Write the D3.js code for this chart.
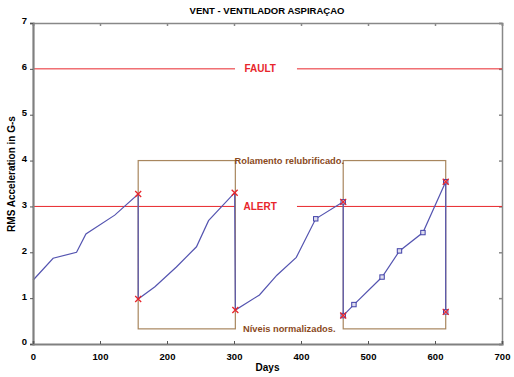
<!DOCTYPE html>
<html>
<head>
<meta charset="utf-8">
<script src="https://cdn.jsdelivr.net/npm/d3@7"></script>
<style>
  html, body { margin: 0; padding: 0; background: #fff; }
  svg { display: block; font-family: "Liberation Sans", Arial, sans-serif; }
  .tick text { font-weight: bold; font-size: 9.5px; fill: #000; }
</style>
</head>
<body>
<div id="chart"></div>
<script>
"use strict";

// vibration history, RMS acceleration per day
const days = [0, 30, 65, 79, 122, 157, 157, 182, 214, 244, 262, 301, 302, 338, 364, 393, 422, 463, 463, 479, 521, 547, 582, 616, 616];
const rms = [1.39, 1.87, 2.0, 2.4, 2.81, 3.27, 0.98, 1.25, 1.68, 2.12, 2.69, 3.3, 0.74, 1.07, 1.5, 1.89, 2.73, 3.1, 0.62, 0.86, 1.46, 2.03, 2.43, 3.54, 0.7];

// which readings get a red cross / a blue square
const crossIdx = [5, 6, 11, 12, 17, 18, 23, 24];
const squareIdx = [16, 17, 18, 19, 20, 21, 22, 23, 24];

// alarm levels
const levelValues = [6, 3];
const levelNames = ["FAULT", "ALERT"];

// relubrication windows (start day, end day)
const boxStarts = [157, 463];
const boxEnds = [302, 616];
const boxTop = 4;
const boxBottom = 0.33;
const boxTopLabel = "Rolamento relubrificado.";
const boxBottomLabel = "Níveis normalizados.";

const xTicks = [0, 100, 200, 300, 400, 500, 600, 700];
const yTicks = [0, 1, 2, 3, 4, 5, 6, 7];

const W = 514, H = 377;
const m = { left: 33, right: 12, top: 23, bottom: 33 };

const svg = d3.select("#chart").append("svg").attr("width", W).attr("height", H);

const x = d3.scaleLinear().domain([0, 700]).range([m.left, W - m.right]);
const y = d3.scaleLinear().domain([0, 7]).range([H - m.bottom, m.top]);

const red = "#e8262b";
const brown = "#a8865e";
const brownText = "#8a4a1c";
const blue = "#5454b0";

// frame: top and right
svg.append("g")
  .attr("transform", `translate(0,${m.top})`)
  .call(d3.axisTop(x).tickValues(xTicks).tickSize(-3).tickFormat(""))
  .call((g) => g.selectAll("path, line").attr("stroke", "#888").attr("stroke-width", 1.5));
svg.append("g")
  .attr("transform", `translate(${W - m.right},0)`)
  .call(d3.axisRight(y).tickValues(yTicks).tickSize(-3).tickFormat(""))
  .call((g) => g.selectAll("path, line").attr("stroke", "#888").attr("stroke-width", 1.5));

// alarm lines with a gap for the label
const gapFrom = 301.5, gapTo = 394;
levelValues.forEach((v, i) => {
  svg.append("line")
    .attr("x1", x(0)).attr("x2", x(gapFrom))
    .attr("y1", y(v)).attr("y2", y(v))
    .attr("stroke", red).attr("stroke-width", 1);
  svg.append("line")
    .attr("x1", x(gapTo)).attr("x2", x(700))
    .attr("y1", y(v)).attr("y2", y(v))
    .attr("stroke", red).attr("stroke-width", 1);
  svg.append("text")
    .attr("x", x(339)).attr("y", y(v))
    .attr("dy", "0.36em")
    .attr("text-anchor", "middle")
    .attr("font-size", 10).attr("font-weight", "bold")
    .attr("fill", red)
    .text(levelNames[i]);
});

// brown boxes
boxStarts.forEach((s, i) => {
  svg.append("rect")
    .attr("x", x(s)).attr("y", y(boxTop))
    .attr("width", x(boxEnds[i]) - x(s))
    .attr("height", y(boxBottom) - y(boxTop))
    .attr("fill", "none")
    .attr("stroke", brown).attr("stroke-width", 1.2);
});
const midDay = (boxEnds[0] + boxStarts[1]) / 2;
[[boxTop, boxTopLabel], [boxBottom, boxBottomLabel]].forEach(([v, t]) => {
  svg.append("text")
    .attr("x", x(midDay)).attr("y", y(v))
    .attr("dy", "0.36em")
    .attr("text-anchor", "middle")
    .attr("font-size", 9.3).attr("font-weight", "bold")
    .attr("fill", brownText)
    .text(t);
});

// the series
const pts = days.map((d, i) => [d, rms[i]]);
svg.append("path")
  .datum(pts)
  .attr("fill", "none")
  .attr("stroke", blue)
  .attr("stroke-width", 1.2)
  .attr("d", d3.line().x((d) => x(d[0])).y((d) => y(d[1])));

svg.append("g").selectAll("rect")
  .data(squareIdx.map((i) => pts[i]))
  .join("rect")
  .attr("x", (d) => x(d[0]) - 2.2).attr("y", (d) => y(d[1]) - 2.2)
  .attr("width", 4.4).attr("height", 4.4)
  .attr("fill", "#dde").attr("stroke", "#4040a8").attr("stroke-width", 1);

svg.append("g").selectAll("path")
  .data(crossIdx.map((i) => pts[i]))
  .join("path")
  .attr("d", (d) => {
    const cx = x(d[0]), cy = y(d[1]), r = 3;
    return `M${cx - r},${cy - r}L${cx + r},${cy + r}M${cx - r},${cy + r}L${cx + r},${cy - r}`;
  })
  .attr("stroke", red).attr("stroke-width", 1.3);

// left and bottom axes
svg.append("g")
  .attr("transform", `translate(${m.left},0)`)
  .call(d3.axisLeft(y).tickValues(yTicks).tickSize(3).tickPadding(3).tickFormat(d3.format("d")))
  .call((g) => g.select(".domain").attr("stroke", "#808080").attr("stroke-width", 2.2))
  .call((g) => g.selectAll(".tick line").attr("stroke", "#555"))
  .call((g) => g.selectAll(".tick text").attr("dy", "0.1em"));

svg.append("g")
  .attr("transform", `translate(0,${H - m.bottom})`)
  .call(d3.axisBottom(x).tickValues(xTicks).tickSize(-3).tickPadding(9).tickFormat(d3.format("d")))
  .call((g) => g.select(".domain").attr("stroke", "#808080").attr("stroke-width", 2.2))
  .call((g) => g.selectAll(".tick line").attr("stroke", "#555"));

// titles
svg.append("text")
  .attr("x", 267).attr("y", 14)
  .attr("text-anchor", "middle")
  .attr("font-size", 9.5).attr("font-weight", "bold")
  .text("VENT - VENTILADOR ASPIRAÇAO");

svg.append("text")
  .attr("x", x(350)).attr("y", 371)
  .attr("text-anchor", "middle")
  .attr("font-size", 10).attr("font-weight", "bold")
  .text("Days");

svg.append("text")
  .attr("transform", "translate(15,174) rotate(-90)")
  .attr("text-anchor", "middle")
  .attr("font-size", 10).attr("font-weight", "bold")
  .text("RMS Acceleration in G-s");
</script>
</body>
</html>
